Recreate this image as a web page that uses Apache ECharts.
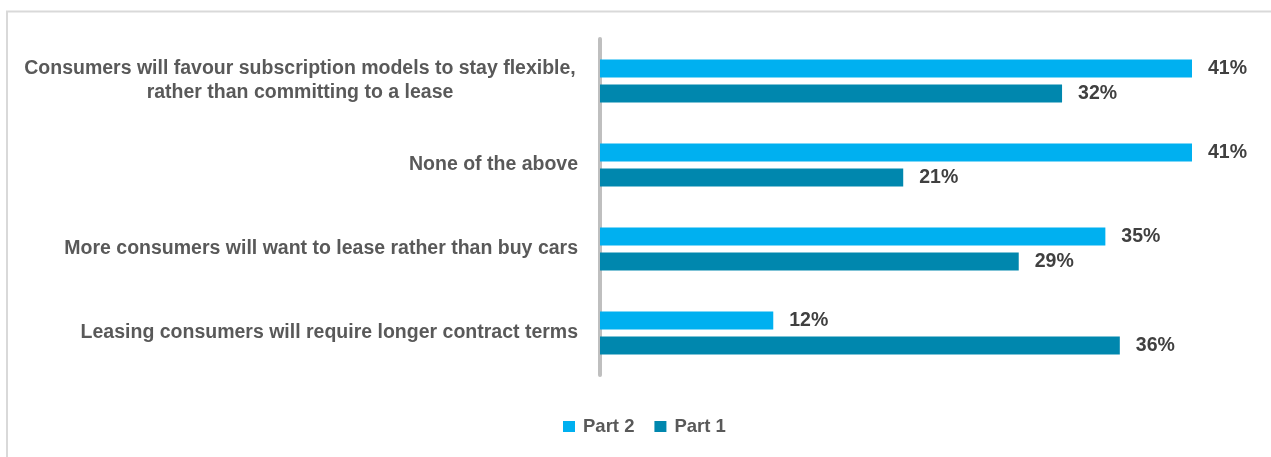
<!DOCTYPE html>
<html>
<head>
<meta charset="utf-8">
<script src="https://cdn.jsdelivr.net/npm/echarts@6/dist/echarts.min.js"></script>
<style>
  html, body { margin: 0; padding: 0; background: #fff; }
  #chart { width: 1271px; height: 457px; }
</style>
</head>
<body>
<div id="chart"></div>
<script>
// Survey statements, listed top to bottom
const categories = [
  'Consumers will favour subscription models to stay flexible,\nrather than committing to a lease',
  'None of the above',
  'More consumers will want to lease rather than buy cars',
  'Leasing consumers will require longer contract terms'
];
const part2Values = [41, 41, 35, 12];
const part1Values = [32, 21, 29, 36];
const seriesNames = ['Part 2', 'Part 1'];

const FONT = '"Liberation Sans Narrow", "Arial Narrow", "Liberation Sans", Arial, sans-serif';

const chart = echarts.init(document.getElementById('chart'), null, { renderer: 'canvas' });

const valueLabel = {
  show: true,
  position: 'right',
  distance: 16,
  formatter: p => p.value + '%',
  fontFamily: FONT,
  fontWeight: 'bold',
  fontSize: 19.5,
  color: '#404040'
};

const labelStyle = {
  fontFamily: FONT,
  fontWeight: 'bold',
  fontSize: 19.5,
  color: '#595959',
  lineHeight: 24
};

chart.setOption({
  animation: false,
  graphic: [{
    type: 'polyline',
    shape: { points: [[7, 457], [7, 11.5], [1271, 11.5]] },
    style: { stroke: '#d9d9d9', lineWidth: 2, fill: null },
    silent: true
  }],
  legend: {
    data: seriesNames,
    top: 412,
    left: 558,
    itemWidth: 12,
    itemHeight: 11,
    itemGap: 20,
    icon: 'rect',
    textStyle: {
      fontFamily: FONT, fontWeight: 'bold', fontSize: 18.5, color: '#595959',
      padding: [0, 0, 0, 3]
    }
  },
  grid: { left: 600, top: 39, width: 592, height: 336, containLabel: false },
  xAxis: {
    type: 'value',
    min: 0,
    max: 41,
    show: false
  },
  yAxis: {
    type: 'category',
    inverse: true,
    data: categories,
    axisLine: { show: true, lineStyle: { color: '#bfbfbf', width: 4 } },
    axisTick: { show: false },
    axisLabel: Object.assign({
      margin: 22,
      formatter: v => {
        if (v.indexOf('\n') < 0) return v;
        return v.split('\n').map(s => '{c|' + s + '}').join('\n');
      },
      rich: {
        c: Object.assign({ width: 556, align: 'center' }, labelStyle)
      }
    }, labelStyle)
  },
  series: [
    {
      name: seriesNames[0],
      type: 'bar',
      data: part2Values,
      barWidth: 18,
      barGap: '40%',
      itemStyle: { color: '#00b0f0' },
      label: valueLabel
    },
    {
      name: seriesNames[1],
      type: 'bar',
      data: part1Values,
      barWidth: 18,
      barGap: '40%',
      itemStyle: { color: '#0087ae' },
      label: valueLabel
    }
  ]
});
</script>
</body>
</html>
